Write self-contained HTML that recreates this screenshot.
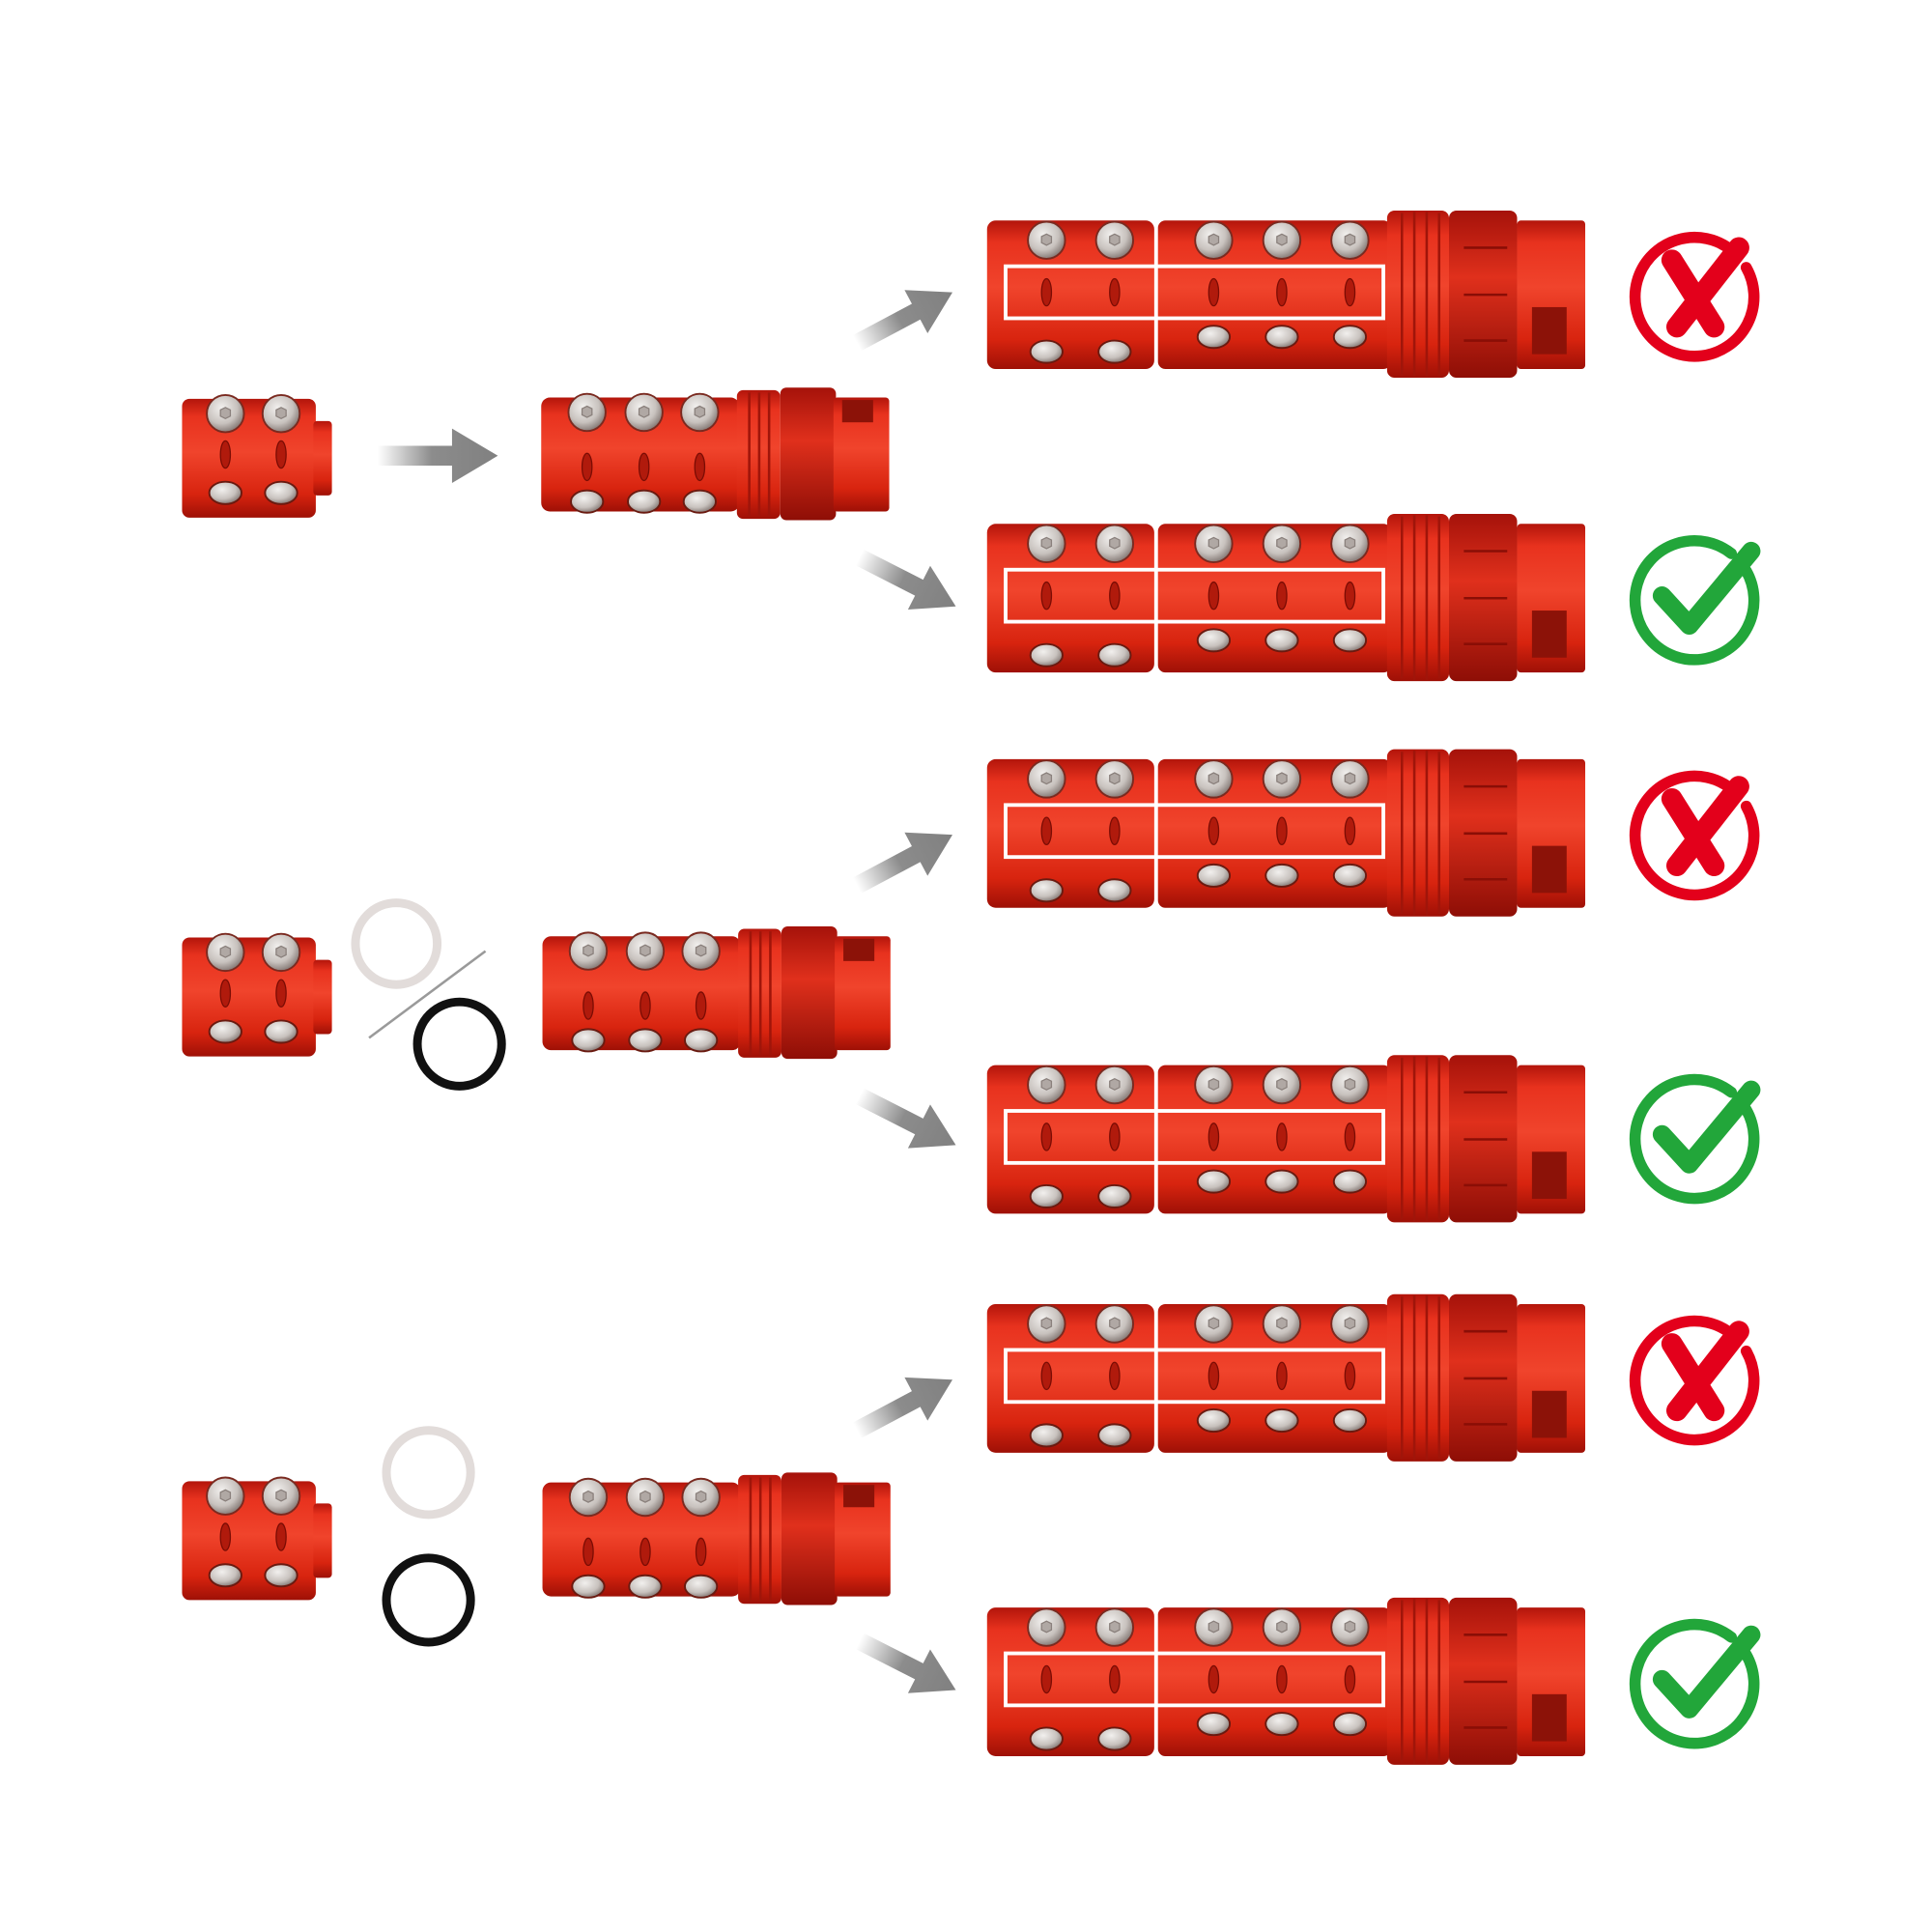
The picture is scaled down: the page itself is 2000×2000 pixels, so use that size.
<!DOCTYPE html>
<html><head><meta charset="utf-8"><style>html,body{margin:0;padding:0;background:#fff}svg{display:block}</style></head>
<body>
<svg width="2000" height="2000" viewBox="0 0 1560 1560" xmlns="http://www.w3.org/2000/svg">
<defs>
<linearGradient id="rg" x1="0" y1="0" x2="0" y2="1">
<stop offset="0" stop-color="#b3150b"/><stop offset="0.15" stop-color="#e8321e"/><stop offset="0.45" stop-color="#f0442c"/><stop offset="0.8" stop-color="#d8240f"/><stop offset="1" stop-color="#9e1006"/></linearGradient>
<linearGradient id="rd" x1="0" y1="0" x2="0" y2="1">
<stop offset="0" stop-color="#a5120a"/><stop offset="0.4" stop-color="#e0301c"/><stop offset="1" stop-color="#8e0e06"/></linearGradient>
<radialGradient id="sv" cx="0.4" cy="0.35" r="0.7"><stop offset="0" stop-color="#f2f0ee"/><stop offset="0.6" stop-color="#c8c2be"/><stop offset="1" stop-color="#7a6e6a"/></radialGradient>
<linearGradient id="ag" x1="0" y1="0" x2="1" y2="0"><stop offset="0" stop-color="#fff"/><stop offset="0.45" stop-color="#8c8c8c"/><stop offset="1" stop-color="#808080"/></linearGradient>
<g id="arrow"><polygon points="0,-8 60,-8 60,-22 97,0 60,22 60,8 0,8" fill="url(#ag)"/></g>
<g id="screwT"><circle r="15" fill="url(#sv)" stroke="#7a2a20" stroke-width="1.5"/><polygon points="-4,-3 0,-5 4,-3 4,2 0,4 -4,2" fill="#b0a8a4" stroke="#8a807c"/></g>
<g id="screwB"><ellipse rx="13" ry="9" fill="url(#sv)" stroke="#6a1a10" stroke-width="1.5"/></g>
<g id="slot"><ellipse rx="4" ry="11" fill="#b01a0c" stroke="#7a0c04" stroke-width="1"/></g>
<g id="long">
<rect x="0" y="8" width="135" height="120" rx="7" fill="url(#rg)"/>
<rect x="138" y="8" width="188" height="120" rx="6" fill="url(#rg)"/>
<rect x="323" y="0" width="50" height="135" rx="6" fill="url(#rg)"/>
<g stroke="#a0150a" stroke-width="2"><line x1="335" y1="2" x2="335" y2="133"/><line x1="345" y1="1" x2="345" y2="134"/><line x1="355" y1="1" x2="355" y2="134"/><line x1="365" y1="2" x2="365" y2="133"/></g>
<rect x="373" y="0" width="55" height="135" rx="6" fill="url(#rd)"/>
<g stroke="#8a0e06" stroke-width="2"><line x1="385" y1="30" x2="420" y2="30"/><line x1="385" y1="68" x2="420" y2="68"/><line x1="385" y1="105" x2="420" y2="105"/></g>
<rect x="428" y="8" width="55" height="120" rx="3" fill="url(#rg)"/>
<rect x="440" y="78" width="28" height="38" fill="#8c1208"/>
<use href="#screwT" x="48" y="24"/><use href="#screwT" x="103" y="24"/><use href="#screwT" x="183" y="24"/><use href="#screwT" x="238" y="24"/><use href="#screwT" x="293" y="24"/>
<use href="#screwB" x="48" y="114"/><use href="#screwB" x="103" y="114"/><use href="#screwB" x="183" y="102"/><use href="#screwB" x="238" y="102"/><use href="#screwB" x="293" y="102"/>
<use href="#slot" x="48" y="66"/><use href="#slot" x="103" y="66"/><use href="#slot" x="183" y="66"/><use href="#slot" x="238" y="66"/><use href="#slot" x="293" y="66"/>
<rect x="15" y="45" width="305" height="42" fill="none" stroke="#fff" stroke-width="3"/>
</g>
<g id="med">
<rect x="0" y="8" width="160" height="92" rx="7" fill="url(#rg)"/>
<rect x="158" y="2" width="35" height="104" rx="5" fill="url(#rg)"/>
<g stroke="#a0150a" stroke-width="2"><line x1="168" y1="4" x2="168" y2="104"/><line x1="176" y1="4" x2="176" y2="104"/><line x1="184" y1="4" x2="184" y2="104"/></g>
<rect x="193" y="0" width="45" height="107" rx="5" fill="url(#rd)"/>
<rect x="236" y="8" width="45" height="92" rx="3" fill="url(#rg)"/>
<rect x="243" y="10" width="25" height="18" fill="#8c1208"/>
<use href="#screwT" x="37" y="20"/><use href="#screwT" x="83" y="20"/><use href="#screwT" x="128" y="20"/>
<use href="#screwB" x="37" y="92"/><use href="#screwB" x="83" y="92"/><use href="#screwB" x="128" y="92"/>
<use href="#slot" x="37" y="64"/><use href="#slot" x="83" y="64"/><use href="#slot" x="128" y="64"/>
</g>
<g id="small">
<rect x="0" y="0" width="108" height="96" rx="6" fill="url(#rg)"/>
<rect x="106" y="18" width="15" height="60" rx="3" fill="url(#rg)"/>
<use href="#screwT" x="35" y="12"/><use href="#screwT" x="80" y="12"/>
<use href="#screwB" x="35" y="76"/><use href="#screwB" x="80" y="76"/>
<use href="#slot" x="35" y="45"/><use href="#slot" x="80" y="45"/>
</g>
<g id="xic"><path d="M 30 -36 A 48 48 0 1 0 42 -22" fill="none" stroke="#e3001b" stroke-width="9" stroke-linecap="round"/>
<line x1="-18" y1="-28" x2="16" y2="26" stroke="#e3001b" stroke-width="17" stroke-linecap="round"/>
<line x1="36" y1="-38" x2="-14" y2="26" stroke="#e3001b" stroke-width="17" stroke-linecap="round"/></g>
<g id="chk"><path d="M 30 -36 A 48 48 0 1 0 42 -22" fill="none" stroke="#22a63a" stroke-width="9" stroke-linecap="round"/>
<polyline points="-26,-2 -4,22 46,-38" fill="none" stroke="#22a63a" stroke-width="15" stroke-linecap="round" stroke-linejoin="round"/></g>
</defs>

<!-- Row 1 -->
<use href="#small" x="147" y="322"/>
<use href="#arrow" transform="translate(305,368)"/>
<use href="#med" x="437" y="313"/>
<use href="#arrow" transform="translate(692,277) rotate(-28) scale(0.9)"/>
<use href="#arrow" transform="translate(694,450) rotate(27) scale(0.9)"/>
<use href="#long" x="797" y="170"/>
<use href="#long" x="797" y="415"/>
<use href="#xic" x="1368" y="238"/>
<use href="#chk" x="1368" y="483"/>

<!-- Row 2 -->
<use href="#small" x="147" y="757"/>
<circle cx="320" cy="762" r="33" fill="none" stroke="#e2dcda" stroke-width="7"/>
<line x1="392" y1="768" x2="298" y2="838" stroke="#9a9a9a" stroke-width="2"/>
<circle cx="371" cy="843" r="34" fill="none" stroke="#111" stroke-width="7"/>
<use href="#med" x="438" y="748"/>
<use href="#arrow" transform="translate(692,715) rotate(-28) scale(0.9)"/>
<use href="#arrow" transform="translate(694,885) rotate(27) scale(0.9)"/>
<use href="#long" x="797" y="605"/>
<use href="#long" x="797" y="852"/>
<use href="#xic" x="1368" y="673"/>
<use href="#chk" x="1368" y="918"/>

<!-- Row 3 -->
<use href="#small" x="147" y="1196"/>
<circle cx="346" cy="1189" r="34" fill="none" stroke="#e2dcda" stroke-width="7"/>
<circle cx="346" cy="1292" r="34" fill="none" stroke="#111" stroke-width="7"/>
<use href="#med" x="438" y="1189"/>
<use href="#arrow" transform="translate(692,1155) rotate(-28) scale(0.9)"/>
<use href="#arrow" transform="translate(694,1325) rotate(27) scale(0.9)"/>
<use href="#long" x="797" y="1045"/>
<use href="#long" x="797" y="1290"/>
<use href="#xic" x="1368" y="1113"/>
<use href="#chk" x="1368" y="1358"/>
</svg>
</body></html>
